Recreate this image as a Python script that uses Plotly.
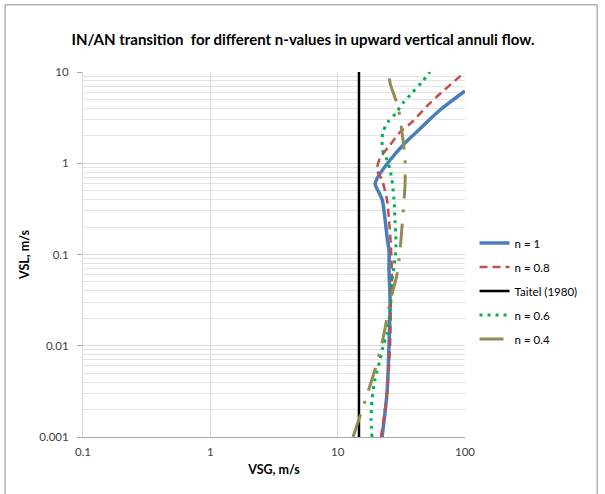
import plotly.graph_objects as go

# ---- data ----
n1_vsg = [22.3, 24.4, 25.3, 25.8, 25.3, 25.3, 24.6, 23.6, 22.4, 21.0, 19.7, 20.4, 21.5, 25.8, 33.8, 45.9, 63.7, 100]
n1_vsl = [0.001, 0.00303, 0.01, 0.0317, 0.0676, 0.112, 0.144, 0.239, 0.396, 0.484, 0.593, 0.68, 0.77, 1.086, 1.667, 2.50, 3.83, 6.19]

n08_vsg = [21.9, 24.4, 25.8, 26.2, 26.7, 26.2, 25.3, 24.4, 22.3, 20.4, 21.5, 25.8, 30.9, 38.4, 53.1, 100]
n08_vsl = [0.001, 0.00303, 0.01, 0.0317, 0.0526, 0.121, 0.239, 0.396, 0.655, 0.843, 1.14, 1.585, 2.20, 2.83, 4.57, 10]

taitel_vsg = [14.7, 14.7]
taitel_vsl = [0.001, 10]

n06_vsg = [18.6, 18.3, 18.6, 19.6, 21.5, 22.7, 24.4, 25.3, 26.2, 26.7, 27.7, 28.7, 28.2, 27.7, 26.7, 25.8, 24.4, 22.7, 22.3, 22.7, 24.8, 28.7, 32.6, 38.4, 45.9, 53.1]
n06_vsl = [0.001, 0.00153, 0.00254, 0.00421, 0.00698, 0.00969, 0.0138, 0.0191, 0.0317, 0.0526, 0.0729, 0.121, 0.239, 0.396, 0.655, 0.843, 1.086, 1.33, 1.71, 2.20, 2.83, 3.55, 4.57, 5.89, 7.77, 10]

n04_vsg = [13.2, 15.0, 17.3, 19.6, 22.3, 24.0, 25.3, 27.2, 29.2, 30.9, 32.0, 33.2, 33.8, 33.8, 32.0, 29.8, 25.8, 25.3]
n04_vsl = [0.001, 0.00170, 0.00311, 0.00542, 0.0107, 0.0178, 0.0266, 0.0408, 0.0596, 0.112, 0.200, 0.396, 0.578, 1.086, 2.20, 4.13, 7.57, 10]

x_ticks = [0.1, 1, 10, 100]
x_ticklabels = ["0.1", "1", "10", "100"]
y_ticks = [0.001, 0.01, 0.1, 1, 10]
y_ticklabels = ["0.001", "0.01", "0.1", "1", "10"]

FONT = "Lato, 'Open Sans', sans-serif"

fig = go.Figure()
fig.add_trace(go.Scatter(x=n1_vsg, y=n1_vsl, mode="lines", name="n = 1", legendgroup="a",
                         line=dict(color="#4A7EBB", width=3.5, shape="spline", smoothing=0.9)))
fig.add_trace(go.Scatter(x=n08_vsg, y=n08_vsl, mode="lines", name="n = 0.8", legendgroup="b",
                         line=dict(color="#C0504D", width=2.5, dash="8px,5px", shape="spline", smoothing=0.8)))
fig.add_trace(go.Scatter(x=taitel_vsg, y=taitel_vsl, mode="lines", name="Taitel (1980)", legendgroup="c",
                         line=dict(color="#000000", width=2.5)))
fig.add_trace(go.Scatter(x=n06_vsg, y=n06_vsl, mode="lines", name="n = 0.6", legendgroup="d",
                         line=dict(color="#00B050", width=3, dash="3px,5px", shape="spline", smoothing=0.8)))
fig.add_trace(go.Scatter(x=n04_vsg, y=n04_vsl, mode="lines", name="n = 0.4", legendgroup="e",
                         line=dict(color="#948A54", width=3, dash="24px,11px,3px,11px", shape="spline", smoothing=0.8)))

fig.update_layout(
    width=605, height=494,
    margin=dict(l=83, r=140, t=72, b=57),
    paper_bgcolor="white", plot_bgcolor="white",
    font=dict(family=FONT, size=11, color="#404040"),
    title=dict(text="<b>IN/AN transition  for different n-values in upward vertical annuli flow.</b>",
               x=303 / 605, xanchor="center", xref="container", y=1 - 40 / 494, yanchor="middle",
               font=dict(family=FONT, size=15, color="#000000")),
    showlegend=True,
    legend=dict(x=1.025, xanchor="left", y=0.40, yanchor="middle",
                font=dict(family=FONT, size=11.5, color="#000000"),
                tracegroupgap=5, bgcolor="rgba(0,0,0,0)"),
    shapes=[dict(type="rect", xref="paper", yref="paper",
                 x0=-0.204, x1=1.346, y0=-0.16, y1=1.184,
                 line=dict(color="#8c8c8c", width=1), fillcolor="rgba(0,0,0,0)", layer="below")],
)

fig.update_xaxes(type="log", range=[-1, 2], tickvals=x_ticks, ticktext=x_ticklabels,
                 showgrid=True, gridcolor="#d9d9d9", gridwidth=1,
                 showline=True, linecolor="#a6a6a6", linewidth=1, mirror=False,
                 ticks="outside", ticklen=4, tickcolor="rgba(0,0,0,0)", zeroline=False,
                 tickfont=dict(family=FONT, size=11.5, color="#404040"),
                 title=dict(text="<b>VSG, m/s</b>", font=dict(family=FONT, size=12.5, color="#000000"),
                            standoff=8))
fig.update_yaxes(type="log", range=[-3, 1], tickvals=y_ticks, ticktext=y_ticklabels,
                 showgrid=True, gridcolor="#d9d9d9", gridwidth=1,
                 minor=dict(dtick="D1", showgrid=True, gridcolor="#e3e3e3", gridwidth=1, ticks=""),
                 showline=True, linecolor="#d9d9d9", linewidth=1,
                 ticks="outside", ticklen=5, tickcolor="#a6a6a6", zeroline=False,
                 ticklabelstandoff=6,
                 tickfont=dict(family=FONT, size=11.5, color="#404040"),
                 title=dict(text="<b>VSL, m/s</b>", font=dict(family=FONT, size=12.5, color="#000000"),
                            standoff=6))

fig.write_html("out.html", config={"displayModeBar": False},
               post_script="document.body.style.margin='0';document.body.style.padding='0';")
